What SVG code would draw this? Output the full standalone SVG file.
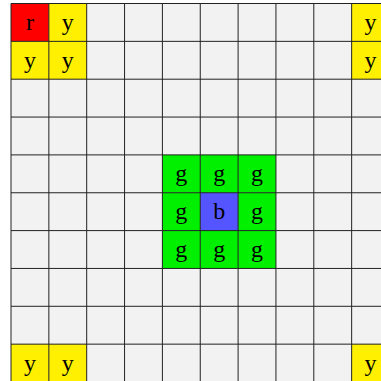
<svg xmlns="http://www.w3.org/2000/svg" width="381" height="381" viewBox="0 0 381 381">
<style>
.bg{fill:#f2f2f2}
.r{fill:#ff0000}
.y{fill:#ffef00}
.g{fill:#00f000}
.b{fill:#5555ff}
.t{font-family:"Liberation Serif","Times New Roman",serif;font-size:24px;fill:#000;text-anchor:middle}
.ln{stroke:#222;stroke-width:1;fill:none}
</style>
<rect class="bg" x="11" y="3.5" width="378.5" height="378.5"/>
<g id="cell-0-0"><rect class="r" x="11" y="3.5" width="37.85" height="37.85"/><text class="t" x="29.93" y="29.9">r</text></g>
<g id="cell-1-0"><rect class="y" x="48.85" y="3.5" width="37.85" height="37.85"/><text class="t" x="67.78" y="29.9">y</text></g>
<g id="cell-0-1"><rect class="y" x="11" y="41.35" width="37.85" height="37.85"/><text class="t" x="29.93" y="67.78">y</text></g>
<g id="cell-1-1"><rect class="y" x="48.85" y="41.35" width="37.85" height="37.85"/><text class="t" x="67.78" y="67.78">y</text></g>
<g id="cell-9-0"><rect class="y" x="351.65" y="3.5" width="37.85" height="37.85"/><text class="t" x="370.58" y="29.9">y</text></g>
<g id="cell-9-1"><rect class="y" x="351.65" y="41.35" width="37.85" height="37.85"/><text class="t" x="370.58" y="67.78">y</text></g>
<g id="cell-0-9"><rect class="y" x="11" y="344.15" width="37.85" height="37.85"/><text class="t" x="29.93" y="370.6">y</text></g>
<g id="cell-1-9"><rect class="y" x="48.85" y="344.15" width="37.85" height="37.85"/><text class="t" x="67.78" y="370.6">y</text></g>
<g id="cell-9-9"><rect class="y" x="351.65" y="344.15" width="37.85" height="37.85"/><text class="t" x="370.58" y="370.6">y</text></g>
<g id="cell-4-4"><rect class="g" x="162.4" y="154.9" width="37.85" height="37.85"/><text class="t" x="181.33" y="181.3">g</text></g>
<g id="cell-5-4"><rect class="g" x="200.25" y="154.9" width="37.85" height="37.85"/><text class="t" x="219.18" y="181.3">g</text></g>
<g id="cell-6-4"><rect class="g" x="238.1" y="154.9" width="37.85" height="37.85"/><text class="t" x="257.03" y="181.3">g</text></g>
<g id="cell-4-5"><rect class="g" x="162.4" y="192.75" width="37.85" height="37.85"/><text class="t" x="181.33" y="219.2">g</text></g>
<g id="cell-5-5"><rect class="b" x="200.25" y="192.75" width="37.85" height="37.85"/><text class="t" x="219.18" y="219.2">b</text></g>
<g id="cell-6-5"><rect class="g" x="238.1" y="192.75" width="37.85" height="37.85"/><text class="t" x="257.03" y="219.2">g</text></g>
<g id="cell-4-6"><rect class="g" x="162.4" y="230.6" width="37.85" height="37.85"/><text class="t" x="181.33" y="257.0">g</text></g>
<g id="cell-5-6"><rect class="g" x="200.25" y="230.6" width="37.85" height="37.85"/><text class="t" x="219.18" y="257.0">g</text></g>
<g id="cell-6-6"><rect class="g" x="238.1" y="230.6" width="37.85" height="37.85"/><text class="t" x="257.03" y="257.0">g</text></g>
<g id="grid-lines" class="ln">
<path d="M11 3.5V382M48.85 3.5V382M86.7 3.5V382M124.55 3.5V382M162.4 3.5V382M200.25 3.5V382M238.1 3.5V382M275.95 3.5V382M313.8 3.5V382M351.65 3.5V382"/>
<path d="M11 3.5H390M11 41.35H390M11 79.2H390M11 117.05H390M11 154.9H390M11 192.75H390M11 230.6H390M11 268.45H390M11 306.3H390M11 344.15H390"/>
</g>
</svg>
